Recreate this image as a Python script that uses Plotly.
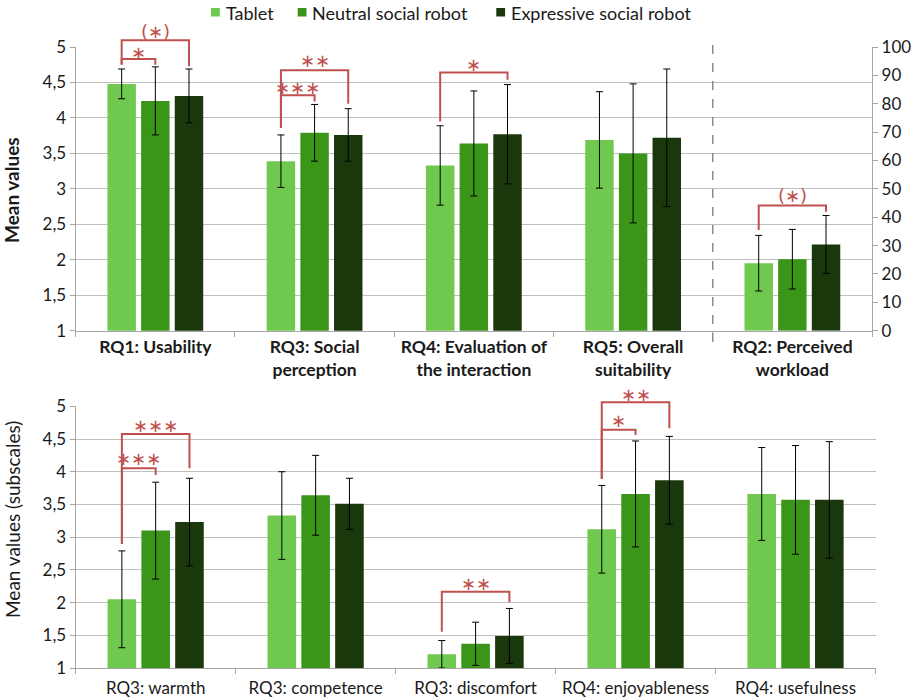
import plotly.graph_objects as go

# ---- data -------------------------------------------------------------
SERIES = ["Tablet", "Neutral social robot", "Expressive social robot"]

# top panel: questionnaire scales (1-5, left axis)
TOP_CATS = ["RQ1: Usability", "RQ3: Social<br>perception",
            "RQ4: Evaluation of<br>the interaction", "RQ5: Overall<br>suitability"]
tablet_mean = [4.48, 3.39, 3.33, 3.69]
tablet_sd = [0.21, 0.37, 0.56, 0.68]
neutral_mean = [4.24, 3.79, 3.64, 3.50]
neutral_sd = [0.48, 0.40, 0.74, 0.98]
expressive_mean = [4.31, 3.76, 3.77, 3.72]
expressive_sd = [0.38, 0.37, 0.70, 0.97]

# top panel: workload (0-100, right axis)
WORKLOAD_CAT = "RQ2: Perceived<br>workload"
workload_mean = [23.8, 25.2, 30.4]
workload_sd = [9.8, 10.5, 10.2]

# bottom panel: subscales (1-5)
SUB_CATS = ["RQ3: warmth", "RQ3: competence", "RQ3: discomfort",
            "RQ4: enjoyableness", "RQ4: usefulness"]
sub_tablet_mean = [2.05, 3.33, 1.21, 3.12, 3.66]
sub_tablet_sd = [0.74, 0.67, 0.21, 0.67, 0.71]
sub_neutral_mean = [3.10, 3.64, 1.37, 3.66, 3.57]
sub_neutral_sd = [0.74, 0.61, 0.33, 0.81, 0.83]
sub_expressive_mean = [3.23, 3.51, 1.49, 3.87, 3.57]
sub_expressive_sd = [0.67, 0.39, 0.42, 0.67, 0.89]

# ---- styling ------------------------------------------------------------
COLORS = ["#6fc94f", "#3a9519", "#1b370c"]
RED = "#c0504d"
GRID = "#bfbfbf"
AXIS = "#a6a6a6"
TEXT = "#1a1a1a"
FONT = "Lato"
STAR_FONT = "DejaVu Sans"
BARGAP = 0.366
GROUPGAP = 0.155
W, H = 918, 699

ALL_TOP = TOP_CATS + [WORKLOAD_CAT]

fig = go.Figure()

top_means = [tablet_mean, neutral_mean, expressive_mean]
top_sds = [tablet_sd, neutral_sd, expressive_sd]
sub_means = [sub_tablet_mean, sub_neutral_mean, sub_expressive_mean]
sub_sds = [sub_tablet_sd, sub_neutral_sd, sub_expressive_sd]


def err(sd):
    return dict(type="data", array=sd, color="black", thickness=1, width=3.5)


for k, name in enumerate(SERIES):
    fig.add_trace(go.Bar(
        x=TOP_CATS, y=top_means[k], error_y=err(top_sds[k]),
        name=name, marker=dict(color=COLORS[k], line=dict(width=0)),
        showlegend=False, xaxis="x", yaxis="y"))
for k, name in enumerate(SERIES):
    fig.add_trace(go.Bar(
        x=[WORKLOAD_CAT], y=[workload_mean[k]], error_y=err([workload_sd[k]]),
        name=name, marker=dict(color=COLORS[k], line=dict(width=0)),
        showlegend=False, xaxis="x", yaxis="y2"))
for k, name in enumerate(SERIES):
    fig.add_trace(go.Bar(
        x=SUB_CATS, y=sub_means[k], error_y=err(sub_sds[k]),
        name=name, marker=dict(color=COLORS[k], line=dict(width=0)),
        showlegend=False, xaxis="x2", yaxis="y3"))

# ---- significance brackets ---------------------------------------------
# (x axis, y axis range, category index, bar a, bar b, level, drop a, drop b, label, label y)
SLOT = (1 - BARGAP) / 3
BRACKETS = [
    ("x", (1, 5), 0, 0, 1, 4.83, 4.75, 4.75, "∗", 4.92),
    ("x", (1, 5), 0, 0, 2, 5.094, 4.75, 4.727, "(∗)", 5.22),
    ("x", (1, 5), 1, 0, 1, 4.318, 3.857, 4.233, "∗∗∗", 4.435),
    ("x", (1, 5), 1, 0, 2, 4.671, 3.857, 4.20, "∗∗", 4.807),
    ("x", (1, 5), 2, 0, 2, 4.642, 3.95, 4.539, "∗", 4.75),
    ("x", (0, 100), 4, 0, 2, 44.1, 35.5, 41.9, "(∗)", 47.5),
    ("x2", (1, 5), 0, 0, 1, 4.052, 2.896, 3.95, "∗∗∗", 4.195),
    ("x2", (1, 5), 0, 0, 2, 4.577, 2.896, 4.052, "∗∗∗", 4.70),
    ("x2", (1, 5), 2, 0, 2, 2.167, 1.555, 2.004, "∗∗", 2.284),
    ("x2", (1, 5), 3, 0, 1, 4.643, 3.889, 4.562, "∗", 4.776),
    ("x2", (1, 5), 3, 0, 2, 5.061, 3.889, 4.664, "∗∗", 5.178),
]
YREF = {"x": "y domain", "x2": "y3 domain"}

shapes = []
annotations = []
for xr, (lo, hi), c, a, b, lev, da, db, lab, ly in BRACKETS:
    def f(v, lo=lo, hi=hi):
        return (v - lo) / (hi - lo)
    xa = c + (a - 1) * SLOT
    xb = c + (b - 1) * SLOT
    shapes.append(dict(
        type="path", xref=xr, yref=YREF[xr],
        path=f"M{xa},{f(da)} L{xa},{f(lev)} L{xb},{f(lev)} L{xb},{f(db)}",
        line=dict(color=RED, width=2)))
    annotations.append(dict(
        xref=xr, yref=YREF[xr], x=(xa + xb) / 2, y=f(ly), text=lab,
        showarrow=False, yanchor="middle",
        font=dict(family=STAR_FONT, size=18, color=RED)))

# dashed separator before the workload group (right axis)
shapes.append(dict(type="line", xref="x", yref="y domain", x0=3.5, x1=3.5,
                   y0=-0.04, y1=1.015,
                   line=dict(color="#8c8c8c", width=1.5, dash="dash")))

# legend drawn as swatches + labels along the top
LEGEND_X = [211, 297.7, 496.3]
for k, name in enumerate(SERIES):
    x0 = LEGEND_X[k]
    shapes.append(dict(type="rect", xref="paper", yref="paper",
                       x0=x0 / W, x1=(x0 + 8.8) / W,
                       y0=1 - 16.5 / H, y1=1 - 8 / H,
                       fillcolor=COLORS[k], line=dict(width=0)))
    annotations.append(dict(xref="paper", yref="paper", x=(x0 + 12.5) / W,
                            y=1 - 13 / H, text=name, showarrow=False,
                            xanchor="left", yanchor="middle",
                            font=dict(family=FONT, size=18, color=TEXT)))

# axis titles
annotations.append(dict(xref="paper", yref="paper", x=12 / W, y=1 - 190 / H,
                        xanchor="center", yanchor="middle",
                        text="<b>Mean values</b>", textangle=-90, showarrow=False,
                        font=dict(family=FONT, size=19, color=TEXT)))
annotations.append(dict(xref="paper", yref="paper", x=12 / W, y=1 - 520 / H,
                        xanchor="center", yanchor="middle",
                        text="Mean values (subscales)", textangle=-90, showarrow=False,
                        font=dict(family=FONT, size=19, color=TEXT)))

tick_font = dict(family=FONT, size=17, color=TEXT)
common_x = dict(type="category", tickson="boundaries", ticks="outside", ticklen=5,
                tickcolor=AXIS, showline=True, linecolor=AXIS, linewidth=1.3,
                showgrid=False, range=[-0.5, 4.5], automargin=False)
common_y = dict(range=[1, 5], dtick=0.5, tick0=1, showgrid=True, gridcolor=GRID,
                gridwidth=1.3, showline=True, linecolor=AXIS, linewidth=1.3,
                ticks="outside", ticklen=5, tickcolor=AXIS, zeroline=False,
                tickfont=tick_font, automargin=False)

fig.update_layout(
    width=W, height=H,
    margin=dict(l=0, r=0, t=0, b=0, autoexpand=False),
    paper_bgcolor="white", plot_bgcolor="white",
    separators=", ",
    showlegend=False,
    barmode="group", bargap=BARGAP, bargroupgap=GROUPGAP,
    font=dict(family=FONT, color=TEXT),
    xaxis=dict(common_x, domain=[75.7 / W, 872 / W], anchor="y",
               categoryorder="array", categoryarray=ALL_TOP,
               tickfont=dict(tick_font, size=17.5, weight="bold")),
    yaxis=dict(common_y, domain=[1 - 330.7 / H, 1 - 47 / H], anchor="x"),
    yaxis2=dict(range=[0, 100], dtick=10, overlaying="y", side="right", anchor="x",
                showgrid=False, showline=True, linecolor=AXIS, linewidth=1.3,
                ticks="outside", ticklen=5, tickcolor=AXIS, zeroline=False,
                tickfont=tick_font, automargin=False),
    xaxis2=dict(common_x, domain=[75.7 / W, 875.5 / W], anchor="y3",
                categoryorder="array", categoryarray=SUB_CATS,
                tickfont=tick_font, ticklabelstandoff=4),
    yaxis3=dict(common_y, domain=[1 - 668 / H, 1 - 406.3 / H], anchor="x2"),
    shapes=shapes,
    annotations=annotations,
)

fig.write_html("out.html")
